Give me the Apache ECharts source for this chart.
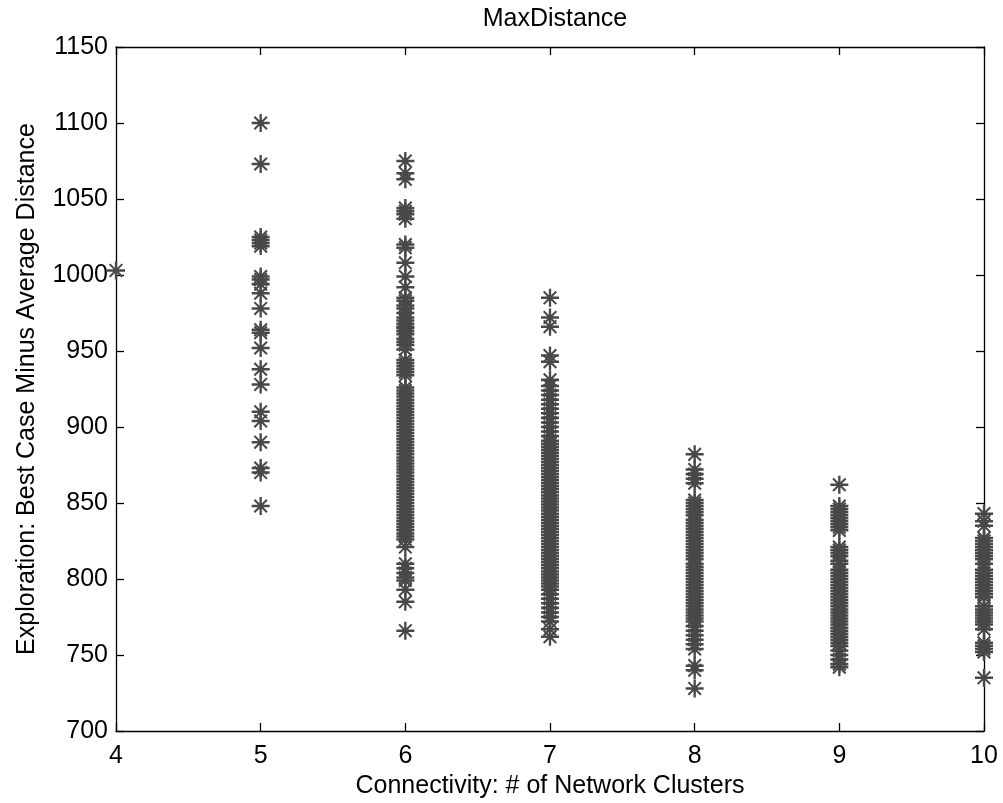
<!DOCTYPE html>
<html>
<head>
<meta charset="utf-8">
<script src="https://cdn.jsdelivr.net/npm/echarts@6/dist/echarts.min.js"></script>
<style>
html,body{margin:0;padding:0;background:#fff;overflow:hidden;}
#chart{width:1003px;height:803px;}
</style>
</head>
<body>
<div id="chart"></div>
<script>
// Categories (x positions: number of network clusters)
const clusters = [4, 5, 6, 7, 8, 9, 10];
const xTicks = [4, 5, 6, 7, 8, 9, 10];
const yTicks = [700, 750, 800, 850, 900, 950, 1000, 1050, 1100, 1150];

// Values per cluster count
const col4 = [1003];
const col5 = [1100, 1073, 1025, 1023, 1021, 1019, 999, 997, 994, 988, 978, 964, 962, 952, 938, 928, 910, 904, 890, 873, 870, 848];
const col6 = [1075, 1067, 1063, 1044, 1042, 1040, 1037, 1020, 1018, 1008, 999, 992, 985, 983, 980, 978, 975, 972, 970, 968, 966, 965, 963, 961, 958, 956, 954, 951, 944, 942, 940, 938, 936, 934, 926, 924, 922, 920, 918, 916, 914, 912, 910, 908, 906, 904, 902, 900, 898, 896, 894, 892, 890, 888, 886, 884, 882, 880, 878, 876, 874, 872, 870, 868, 866, 864, 862, 860, 858, 856, 854, 852, 850, 848, 846, 844, 842, 840, 838, 836, 834, 832, 830, 828, 826, 821, 810, 807, 804, 801, 799, 793, 785, 766];
const col7 = [985, 972, 966, 947, 943, 931, 927, 924, 921, 918, 915, 912, 909, 906, 903, 900, 897, 894, 891, 889, 887, 885, 883, 881, 879, 877, 875, 873, 871, 869, 867, 865, 863, 861, 859, 857, 855, 853, 851, 849, 847, 845, 843, 841, 839, 837, 835, 833, 831, 829, 827, 825, 823, 821, 819, 817, 815, 813, 811, 809, 807, 805, 803, 801, 799, 797, 795, 793, 790, 787, 784, 781, 778, 775, 772, 767, 762];
const col8 = [882, 872, 869, 866, 863, 852, 850, 848, 846, 844, 842, 839, 837, 835, 833, 831, 829, 827, 825, 823, 821, 819, 817, 815, 813, 810, 808, 806, 804, 802, 800, 798, 796, 794, 792, 790, 788, 786, 784, 782, 780, 778, 776, 774, 772, 769, 766, 763, 760, 757, 754, 743, 740, 728];
const col9 = [862, 848, 846, 844, 842, 840, 838, 836, 834, 832, 821, 819, 817, 815, 812, 810, 806, 804, 802, 800, 798, 796, 794, 792, 790, 788, 786, 784, 782, 780, 778, 776, 774, 772, 770, 768, 766, 764, 762, 760, 758, 756, 753, 750, 747, 744, 742];
const col10 = [843, 838, 835, 827, 825, 823, 821, 819, 817, 815, 813, 810, 806, 804, 802, 800, 798, 796, 794, 792, 790, 788, 782, 780, 778, 776, 774, 772, 770, 767, 758, 756, 754, 752, 735];

const columns = [col4, col5, col6, col7, col8, col9, col10];
const points = [];
clusters.forEach((c, i) => columns[i].forEach(v => points.push([c, v])));

const FONT = 'Liberation Sans';
const star = 'path://M0,8.6 L20,8.6 L20,11.4 L0,11.4 Z M8.7,0 L11.3,0 L11.3,20 L8.7,20 Z M2.2,3.8 L3.8,2.2 L17.8,16.2 L16.2,17.8 Z M16.2,2.2 L17.8,3.8 L3.8,17.8 L2.2,16.2 Z';

const axisCommon = {
  type: 'value',
  axisLine: { show: true, onZero: false, lineStyle: { color: '#000', width: 1.3 } },
  axisTick: { show: true, inside: true, length: 8, lineStyle: { color: '#000', width: 1.3 } },
  splitLine: { show: false }
};

const chart = echarts.init(document.getElementById('chart'), null, { renderer: 'canvas' });
chart.setOption({
  backgroundColor: '#fff',
  animation: false,
  title: {
    text: 'MaxDistance',
    left: 550, top: 2, textAlign: 'center',
    textStyle: { fontFamily: FONT, fontSize: 25, fontWeight: 'normal', color: '#000' }
  },
  grid: { left: 116, right: 19, top: 47, bottom: 72, containLabel: false, outerBoundsMode: 'none' },
  xAxis: [
    Object.assign({}, axisCommon, {
      position: 'bottom', min: xTicks[0], max: xTicks[xTicks.length - 1], interval: 1,
      axisLabel: { margin: 13, fontFamily: FONT, fontSize: 25, color: '#000', formatter: v => String(v) },
      name: 'Connectivity: # of Network Clusters', nameLocation: 'middle', nameGap: 42,
      nameTextStyle: { fontFamily: FONT, fontSize: 25, color: '#000', verticalAlign: 'top' }
    }),
    Object.assign({}, axisCommon, {
      position: 'top', min: xTicks[0], max: xTicks[xTicks.length - 1], interval: 1,
      axisLabel: { show: false }
    })
  ],
  yAxis: [
    Object.assign({}, axisCommon, {
      position: 'left', min: yTicks[0], max: yTicks[yTicks.length - 1], interval: 50,
      axisLabel: { margin: 8, fontFamily: FONT, fontSize: 25, color: '#000', formatter: v => String(v) },
      name: 'Exploration: Best Case Minus Average Distance', nameLocation: 'middle', nameGap: 76,
      nameTextStyle: { fontFamily: FONT, fontSize: 25, color: '#000' }
    }),
    Object.assign({}, axisCommon, {
      position: 'right', min: yTicks[0], max: yTicks[yTicks.length - 1], interval: 50,
      axisLabel: { show: false }
    })
  ],
  series: [{
    type: 'scatter',
    xAxisIndex: 0, yAxisIndex: 0,
    clip: false,
    symbol: star,
    symbolSize: 18,
    itemStyle: { color: '#484848', opacity: 1 },
    data: points
  }]
});
</script>
</body>
</html>
